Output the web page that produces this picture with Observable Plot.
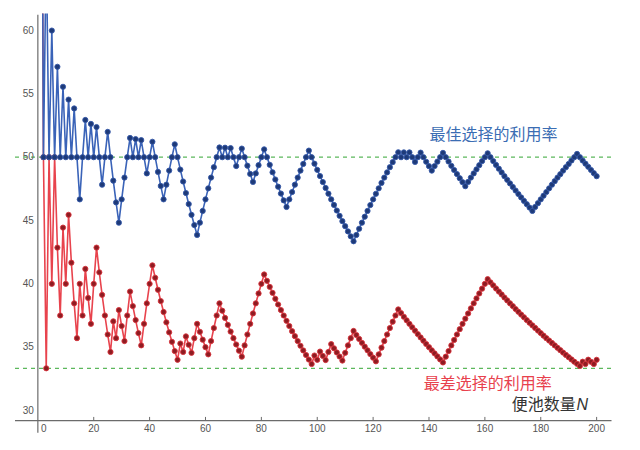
<!DOCTYPE html>
<html><head><meta charset="utf-8">
<script src="https://cdn.jsdelivr.net/npm/d3@7"></script>
<script src="https://cdn.jsdelivr.net/npm/@observablehq/plot@0.6"></script>
<style>html,body{margin:0;padding:0;background:#fff}#chart svg{display:block}</style>
</head><body><div id="chart"></div>
<script>
// Number of urinals N
const N = [1,2,3,4,5,6,7,8,9,10,11,12,13,14,15,16,17,18,19,20,21,22,23,24,25,26,27,28,29,30,31,32,33,34,35,36,37,38,39,40,41,42,43,44,45,46,47,48,49,50,51,52,53,54,55,56,57,58,59,60,61,62,63,64,65,66,67,68,69,70,71,72,73,74,75,76,77,78,79,80,81,82,83,84,85,86,87,88,89,90,91,92,93,94,95,96,97,98,99,100,101,102,103,104,105,106,107,108,109,110,111,112,113,114,115,116,117,118,119,120,121,122,123,124,125,126,127,128,129,130,131,132,133,134,135,136,137,138,139,140,141,142,143,144,145,146,147,148,149,150,151,152,153,154,155,156,157,158,159,160,161,162,163,164,165,166,167,168,169,170,171,172,173,174,175,176,177,178,179,180,181,182,183,184,185,186,187,188,189,190,191,192,193,194,195,196,197,198,199,200];
// Utilization rate (%) with the best first choice
const best = [100,50,66.67,50,60,50,57.14,50,55.56,50,
54.55,50,53.85,50,46.67,50,52.94,50,52.63,50,
52.38,50,47.83,50,52,50,48.15,46.43,44.83,46.67,
48.39,50,51.52,50,51.43,50,51.35,50,48.72,50,
51.22,50,48.84,47.73,46.67,47.83,48.94,50,51.02,50,
49.02,48.08,47.17,46.30,45.45,44.64,43.86,44.83,45.76,46.67,
47.54,48.39,49.21,50,50.77,50,50.75,50,50.72,50,
49.30,50,50.68,50,49.33,48.68,48.05,48.72,49.37,50,
50.62,50,49.40,48.81,48.24,47.67,47.13,46.59,46.07,46.67,
47.25,47.83,48.39,48.94,49.47,50,50.52,50,49.49,49,
48.51,48.04,47.57,47.12,46.67,46.23,45.79,45.37,44.95,44.55,
44.14,43.75,43.36,43.86,44.35,44.83,45.30,45.76,46.22,46.67,
47.11,47.54,47.97,48.39,48.80,49.21,49.61,50,50.39,50,
50.38,50,50.38,50,49.63,50,50.36,50,49.64,49.29,
48.94,49.30,49.65,50,50.34,50,49.66,49.32,48.99,48.67,
48.34,48.03,47.71,48.05,48.39,48.72,49.04,49.37,49.69,50,
50.31,50,49.69,49.39,49.09,48.80,48.50,48.21,47.93,47.65,
47.37,47.09,46.82,46.55,46.29,46.02,45.76,46.07,46.37,46.67,
46.96,47.25,47.54,47.83,48.11,48.39,48.66,48.94,49.21,49.47,
49.74,50,50.26,50,49.74,49.49,49.24,48.99,48.74,48.50];
// Utilization rate (%) with the worst first choice
const worst = [100,50,33.33,50,40,50,42.86,37.5,44.44,40,
45.45,41.67,38.46,35.71,40,37.5,41.18,38.89,36.84,40,
42.86,40.91,39.13,37.5,36,34.62,37.04,35.71,37.93,36.67,
35.48,37.5,39.39,38.24,37.14,36.11,35.14,36.84,38.46,40,
41.46,40.48,39.53,38.64,37.78,36.96,36.17,35.42,34.69,34,
35.29,34.62,35.85,35.19,34.55,35.71,36.84,36.21,35.59,35,
34.43,35.48,36.51,37.5,38.46,37.88,37.31,36.76,36.23,35.71,
35.21,34.72,34.25,35.14,36,36.84,37.66,38.46,39.24,40,
40.74,40.24,39.76,39.29,38.82,38.37,37.93,37.5,37.08,36.67,
36.26,35.87,35.48,35.11,34.74,34.38,34.02,33.67,34.34,34,
34.65,34.31,33.98,34.62,35.24,34.91,34.58,34.26,33.94,34.55,
35.14,35.71,36.28,35.96,35.65,35.34,35.04,34.75,34.45,34.17,
33.88,34.43,34.96,35.48,36,36.51,37.01,37.5,37.98,37.69,
37.40,37.12,36.84,36.57,36.30,36.03,35.77,35.51,35.25,35,
34.75,34.51,34.27,34.03,33.79,34.25,34.69,35.14,35.57,36,
36.42,36.84,37.25,37.66,38.06,38.46,38.85,39.24,39.62,40,
40.37,40.12,39.88,39.63,39.39,39.16,38.92,38.69,38.46,38.24,
38.01,37.79,37.57,37.36,37.14,36.93,36.72,36.52,36.31,36.11,
35.91,35.71,35.52,35.33,35.14,34.95,34.76,34.57,34.39,34.21,
34.03,33.85,33.68,33.51,33.85,33.67,34.01,33.84,33.67,34];
const xTicks = [0,20,40,60,80,100,120,140,160,180,200];
const yTicks = [30,35,40,45,50,55,60];
const refLines = [50, 33.33];
const bestLabel = "最佳选择的利用率";
const worstLabel = "最差选择的利用率";
const xLabel = "便池数量";
const xLabelVar = "N";

const rows = N.map((n, i) => ({n, best: best[i], worst: worst[i]}));
const cjk = "'Noto Sans CJK SC', 'Noto Sans', sans-serif";
const tickFont = {fontSize: 10, fill: "#555"};

const chart = Plot.plot({
  width: 640, height: 450,
  marginTop: 13.6, marginBottom: 29.9, marginLeft: 15, marginRight: 28.5,
  x: {domain: [-8, 205.5], axis: null},
  y: {domain: [29.2, 61.3], axis: null},
  style: {background: "#fff", fontFamily: "'Liberation Sans', Arial, sans-serif"},
  marks: [
    Plot.ruleY(refLines, {stroke: "#5cb85c", strokeDasharray: "4,4", strokeWidth: 1.3}),
    Plot.ruleY([29.2], {stroke: "#6b6b6b", strokeWidth: 1.2}),
    Plot.ruleX([0], {y1: 28.2, y2: 61.2, stroke: "#6b6b6b", strokeWidth: 1.2}),
    Plot.ruleX(xTicks.filter(d => d !== 0), {y1: 29.2, y2: 29.45, stroke: "#6b6b6b"}),
    Plot.text(xTicks.filter(d => d !== 0), {x: d => d, y: 29.2, dy: 8, text: d => String(d), ...tickFont}),
    Plot.text(xTicks.filter(d => d === 0), {x: d => d, y: 29.2, dy: 8, dx: 6, text: d => String(d), ...tickFont}),
    Plot.text(yTicks, {x: 0, y: d => d, dx: -4, text: d => String(d), textAnchor: "end", ...tickFont}),
    Plot.line(rows, {x: "n", y: "worst", stroke: "#e8434d", strokeWidth: 1.6, clip: true}),
    Plot.dot(rows, {x: "n", y: "worst", r: 2.6, fill: "#8e1c22", stroke: "#d8343d", strokeWidth: 0.9, clip: true}),
    Plot.line(rows, {x: "n", y: "best", stroke: "#3a63b8", strokeWidth: 1.6, clip: true}),
    Plot.dot(rows, {x: "n", y: "best", r: 2.6, fill: "#1e3a78", stroke: "#3458a8", strokeWidth: 0.9, clip: true}),
    Plot.text([bestLabel], {x: 140.2, y: 51.79, text: d => d, textAnchor: "start", fontSize: 16, fill: "#3b6db3", fontFamily: cjk}),
    Plot.text([worstLabel], {x: 138.1, y: 32.13, text: d => d, textAnchor: "start", fontSize: 16, fill: "#e8414d", fontFamily: cjk}),
    Plot.text([xLabel], {x: 169.6, y: 30.47, text: d => d, textAnchor: "start", fontSize: 16, fill: "#333", fontFamily: cjk}),
    Plot.text([xLabelVar], {x: 192.8, y: 30.47, text: d => d, textAnchor: "start", fontSize: 16, fill: "#333", fontStyle: "italic", fontFamily: "'Liberation Sans', Arial, sans-serif"})
  ]
});
document.getElementById("chart").appendChild(chart);
</script>
</body></html>
